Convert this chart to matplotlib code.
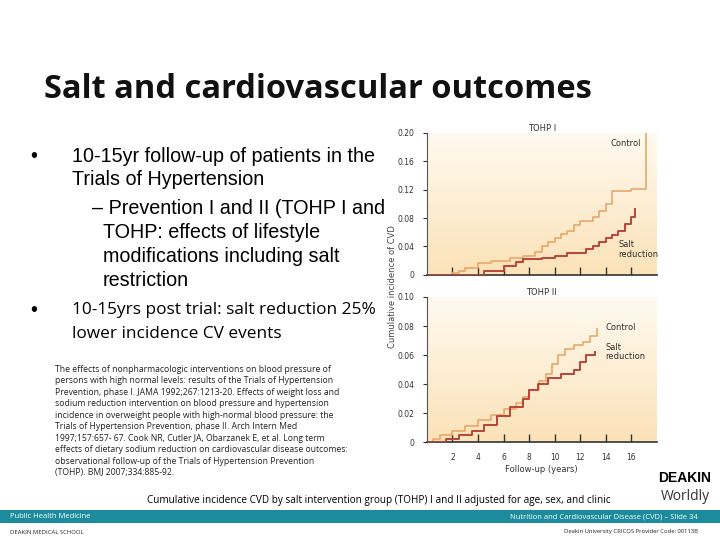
import matplotlib
matplotlib.use("Agg")
import matplotlib.pyplot as plt
import numpy as np

# TOHP I
t1_ctrl_x = [0, 2.0, 2.5, 3.0, 4.0, 5.0, 6.5, 7.5, 8.5, 9.0, 9.5, 10.0, 10.5, 11.0, 11.5, 12.0, 13.0, 13.5, 14.0, 14.5, 16.0, 17.2]
t1_ctrl_y = [0, 0.002, 0.006, 0.010, 0.016, 0.020, 0.024, 0.026, 0.032, 0.040, 0.046, 0.052, 0.058, 0.062, 0.070, 0.076, 0.082, 0.090, 0.100, 0.118, 0.121, 0.200]
t1_salt_x = [0, 4.5, 6.0, 7.0, 7.5, 9.0, 10.0, 11.0, 12.5, 13.0, 13.5, 14.0, 14.5, 15.0, 15.5, 16.0, 16.3]
t1_salt_y = [0, 0.006, 0.012, 0.018, 0.022, 0.024, 0.026, 0.031, 0.036, 0.040, 0.046, 0.052, 0.056, 0.062, 0.072, 0.082, 0.093]
# TOHP II
t2_ctrl_x = [0, 0.5, 1.0, 2.0, 3.0, 4.0, 5.0, 6.0, 7.0, 7.5, 8.0, 8.8, 9.3, 9.8, 10.3, 10.8, 11.5, 12.2, 12.8, 13.3]
t2_ctrl_y = [0, 0.002, 0.005, 0.008, 0.011, 0.015, 0.019, 0.023, 0.027, 0.031, 0.036, 0.042, 0.047, 0.054, 0.060, 0.064, 0.067, 0.069, 0.073, 0.078]
t2_salt_x = [0, 1.5, 2.5, 3.5, 4.5, 5.5, 6.5, 7.5, 8.0, 8.7, 9.5, 10.5, 11.5, 12.0, 12.5, 13.2]
t2_salt_y = [0, 0.002, 0.005, 0.008, 0.012, 0.018, 0.024, 0.030, 0.036, 0.040, 0.044, 0.047, 0.050, 0.055, 0.060, 0.062]
xticks = [2, 4, 6, 8, 10, 12, 14, 16]

ctrl_c = "#e7a86a"
salt_c = "#b8453a"

fig = plt.figure(figsize=(7.2, 5.4), dpi=100)
fig.patch.set_facecolor("white")

def panel(rect, cx, cy, sx, sy, ymax, yt, ylabels, title, ctrl_pos, salt_pos, bottom):
    ax = fig.add_axes(rect)
    grad = np.linspace(0, 1, 256).reshape(-1, 1)
    ax.imshow(grad, extent=[0, 18, 0, ymax], aspect="auto", origin="lower",
              cmap=matplotlib.colors.LinearSegmentedColormap.from_list("g", ["#fbe2b8", "#fffaf0"]), zorder=0)
    ax.step(cx, cy, where="post", color=ctrl_c, lw=1.2, zorder=2)
    ax.step(sx, sy, where="post", color=salt_c, lw=1.4, zorder=3)
    ax.set_xlim(0, 18)
    ax.set_ylim(0, ymax)
    ax.set_yticks(yt)
    ax.set_yticklabels(ylabels, fontsize=5.5, color="#333333")
    ax.set_xticks(xticks)
    if bottom:
        ax.set_xticklabels([str(v) for v in xticks], fontsize=5.5, color="#333333")
        ax.set_xlabel("Follow-up (years)", fontsize=6, color="#333333", labelpad=2)
    else:
        ax.set_xticklabels([])
    ax.tick_params(axis="x", direction="in", length=6, width=1, color="#333333", pad=8)
    ax.tick_params(axis="y", direction="out", length=3, width=0.8, color="#333333", pad=6)
    for s in ["top", "right"]:
        ax.spines[s].set_visible(False)
    ax.spines["left"].set_color("#555555")
    ax.spines["bottom"].set_color("#333333")
    ax.spines["bottom"].set_linewidth(1.2)
    ax.text(0.5, 1.0, title, transform=ax.transAxes, ha="center", va="bottom", fontsize=6, color="#333333")
    ax.text(*ctrl_pos, "Control", fontsize=6, color="#333333")
    ax.text(*salt_pos, "Salt\nreduction", fontsize=6, color="#333333", ha="left", linespacing=1.1)
    return ax

panel([0.593, 0.491, 0.319, 0.263], t1_ctrl_x, t1_ctrl_y, t1_salt_x, t1_salt_y, 0.20,
      [0, 0.04, 0.08, 0.12, 0.16, 0.20], ["0", "0.04", "0.08", "0.12", "0.16", "0.20"],
      "TOHP I", (14.4, 0.182), (15.0, 0.025), False)
panel([0.593, 0.181, 0.319, 0.269], t2_ctrl_x, t2_ctrl_y, t2_salt_x, t2_salt_y, 0.10,
      [0, 0.02, 0.04, 0.06, 0.08, 0.10], ["0", "0.02", "0.04", "0.06", "0.08", "0.10"],
      "TOHP II", (14.0, 0.077), (14.0, 0.057), True)
fig.text(0.545, 0.47, "Cumulative incidence of CVD", rotation=90, fontsize=6, color="#444444", ha="center", va="center")

# slide text
fig.text(44/720, 1 - 90/540, "Salt and cardiovascular outcomes", fontsize=23.5, fontweight="bold",
         family="Open Sans", color="#111111", va="center")
fs = 14.2
fig.text(30/720, 1 - 156/540, "•", fontsize=fs, family="Liberation Sans", va="center")
fig.text(72/720, 1 - 156/540, "10-15yr follow-up of patients in the", fontsize=fs, family="Liberation Sans", va="center")
fig.text(72/720, 1 - 180/540, "Trials of Hypertension", fontsize=fs, family="Liberation Sans", va="center")
fig.text(92/720, 1 - 208/540, "– Prevention I and II (TOHP I and", fontsize=fs, family="Liberation Sans", va="center")
fig.text(103/720, 1 - 232/540, "TOHP: effects of lifestyle", fontsize=fs, family="Liberation Sans", va="center")
fig.text(103/720, 1 - 256/540, "modifications including salt", fontsize=fs, family="Liberation Sans", va="center")
fig.text(103/720, 1 - 280/540, "restriction", fontsize=fs, family="Liberation Sans", va="center")
fig.text(30/720, 1 - 310/540, "•", fontsize=fs, family="Liberation Sans", va="center")
fig.text(72/720, 1 - 310/540, "10-15yrs post trial: salt reduction 25%", fontsize=12.4, family="Open Sans", va="center")
fig.text(72/720, 1 - 334/540, "lower incidence CV events", fontsize=12.4, family="Open Sans", va="center")

para = ("The effects of nonpharmacologic interventions on blood pressure of\n"
        "persons with high normal levels: results of the Trials of Hypertension\n"
        "Prevention, phase I. JAMA 1992;267:1213-20. Effects of weight loss and\n"
        "sodium reduction intervention on blood pressure and hypertension\n"
        "incidence in overweight people with high-normal blood pressure: the\n"
        "Trials of Hypertension Prevention, phase II. Arch Intern Med\n"
        "1997;157:657- 67. Cook NR, Cutler JA, Obarzanek E, et al. Long term\n"
        "effects of dietary sodium reduction on cardiovascular disease outcomes:\n"
        "observational follow-up of the Trials of Hypertension Prevention\n"
        "(TOHP). BMJ 2007;334:885-92.")
fig.text(55/720, 1 - 365/540, para, fontsize=6.2, family="Open Sans", va="top", linespacing=1.35, color="#222222")
fig.text(147/720, 1 - 500/540, "Cumulative incidence CVD by salt intervention group (TOHP) I and II adjusted for age, sex, and clinic",
         fontsize=7.2, family="Open Sans", va="center")

# footer bar
fig.patches.append(matplotlib.patches.Rectangle((0, 1 - 523/540), 1, 13/540, transform=fig.transFigure,
                                                facecolor="#1c8c9c", edgecolor="none"))
fig.text(10/720, 1 - 517/540, "Public Health Medicine", fontsize=5.5, family="Open Sans", color="white", va="center")
fig.text(698/720, 1 - 517/540, "Nutrition and Cardiovascular Disease (CVD) – Slide 34", fontsize=5.5,
         family="Open Sans", color="white", va="center", ha="right")
fig.text(10/720, 1 - 532/540, "DEAKIN MEDICAL SCHOOL", fontsize=4.2, family="Open Sans", color="#222222", va="center")
fig.text(698/720, 1 - 532/540, "Deakin University CRICOS Provider Code: 00113B", fontsize=4.2,
         family="Open Sans", color="#222222", va="center", ha="right")
# logo text
fig.text(685/720, 1 - 478/540, "DEAKIN", fontsize=10, fontweight="bold", family="Liberation Sans", ha="center", va="center")
fig.text(685/720, 1 - 497/540, "Worldly", fontsize=10, family="Open Sans", ha="center", va="center", color="#333333")

fig.savefig("out.png", dpi=100)
